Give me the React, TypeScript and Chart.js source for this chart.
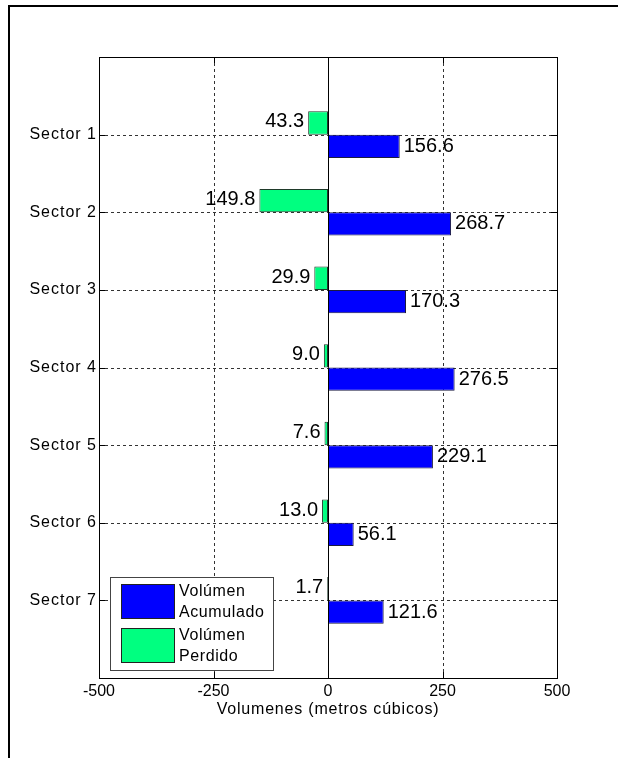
import React, { useEffect, useRef } from 'react';
import { Chart, registerables } from 'chart.js';

Chart.register(...registerables);

const sectors = ['Sector 1', 'Sector 2', 'Sector 3', 'Sector 4', 'Sector 5', 'Sector 6', 'Sector 7'];
const acumulado = [156.6, 268.7, 170.3, 276.5, 229.1, 56.1, 121.6];
const perdido = [43.3, 149.8, 29.9, 9.0, 7.6, 13.0, 1.7];
const xTicks = [-500, -250, 0, 250, 500];
const legendAcumulado = ['Volúmen', 'Acumulado'];
const legendPerdido = ['Volúmen', 'Perdido'];
const xTitle = 'Volumenes (metros cúbicos)';

const FONT = '"Liberation Sans", Arial, Helvetica, sans-serif';
const BLUE = '#0000FF';
const GREEN = '#00FF80';

const styled = {
  id: 'matlabStyle',
  beforeDraw(chart: any) {
    const ctx = chart.ctx;
    ctx.save();
    ctx.fillStyle = '#fff';
    ctx.fillRect(0, 0, chart.width, chart.height);
    ctx.strokeStyle = '#000';
    ctx.lineWidth = 2;
    ctx.beginPath();
    ctx.moveTo(9, chart.height + 5);
    ctx.lineTo(9, 6);
    ctx.lineTo(chart.width + 5, 6);
    ctx.stroke();
    ctx.restore();
  },
  beforeDatasetsDraw(chart: any) {
    const ctx = chart.ctx;
    const { left, right, top, bottom } = chart.chartArea;
    const xs = chart.scales.x;
    const ys = chart.scales.y;
    ctx.save();
    ctx.strokeStyle = '#333';
    ctx.lineWidth = 1;
    ctx.setLineDash([3, 3]);
    xTicks.forEach((t) => {
      if (t === -500 || t === 500 || t === 0) return;
      const px = Math.round(xs.getPixelForValue(t)) + 0.5;
      ctx.beginPath();
      ctx.moveTo(px, top);
      ctx.lineTo(px, bottom);
      ctx.stroke();
    });
    sectors.forEach((_, i) => {
      const py = Math.round(ys.getPixelForValue(i + 1)) + 0.5;
      ctx.beginPath();
      ctx.moveTo(left, py);
      ctx.lineTo(right, py);
      ctx.stroke();
    });
    ctx.restore();
  },
  afterDatasetsDraw(chart: any) {
    const ctx = chart.ctx;
    const { left, right, top, bottom } = chart.chartArea;
    const xs = chart.scales.x;
    const ys = chart.scales.y;
    ctx.save();
    // baseline at 0
    ctx.strokeStyle = '#000';
    ctx.lineWidth = 1;
    const x0 = Math.round(xs.getPixelForValue(0)) + 0.5;
    ctx.beginPath();
    ctx.moveTo(x0, top);
    ctx.lineTo(x0, bottom);
    ctx.stroke();

    // axes box
    ctx.strokeRect(Math.round(left) + 0.5, Math.round(top) + 0.5, Math.round(right - left), Math.round(bottom - top));

    // inward ticks
    const tl = 6;
    xTicks.forEach((t) => {
      const px = Math.round(xs.getPixelForValue(t)) + 0.5;
      ctx.beginPath();
      ctx.moveTo(px, bottom);
      ctx.lineTo(px, bottom - tl);
      ctx.moveTo(px, top);
      ctx.lineTo(px, top + tl);
      ctx.stroke();
    });
    sectors.forEach((_, i) => {
      const py = Math.round(ys.getPixelForValue(i + 1)) + 0.5;
      ctx.beginPath();
      ctx.moveTo(left, py);
      ctx.lineTo(left + tl, py);
      ctx.moveTo(right, py);
      ctx.lineTo(right - tl, py);
      ctx.stroke();
    });

    // tick labels
    ctx.fillStyle = '#000';
    ctx.font = `16px ${FONT}`;
    ctx.textBaseline = 'middle';
    ctx.textAlign = 'center';
    xTicks.forEach((t) => {
      ctx.fillText(String(t), xs.getPixelForValue(t), 692);
    });
    (ctx as any).letterSpacing = '1px';
    ctx.textAlign = 'right';
    sectors.forEach((s, i) => {
      ctx.fillText(s, left - 2, ys.getPixelForValue(i + 1));
    });
    (ctx as any).letterSpacing = '0.8px';
    ctx.textAlign = 'center';
    ctx.fillText(xTitle, (left + right) / 2, 710);
    (ctx as any).letterSpacing = '0px';

    // data labels
    ctx.font = `20px ${FONT}`;
    const mp = chart.getDatasetMeta(0);
    const ma = chart.getDatasetMeta(1);
    sectors.forEach((_, i) => {
      const ep = mp.data[i + 1];
      const ea = ma.data[i + 1];
      ctx.textAlign = 'right';
      ctx.fillText(perdido[i].toFixed(1), ep.x - 4, ep.y - 1);
      ctx.textAlign = 'left';
      ctx.fillText(acumulado[i].toFixed(1), ea.x + 4, ea.y);
    });

    // legend
    const lx = 110.5, ly = 577.5, lw = 163, lh = 93;
    ctx.fillStyle = '#fff';
    ctx.fillRect(lx, ly, lw, lh);
    ctx.strokeStyle = '#444';
    ctx.strokeRect(lx, ly, lw, lh);
    ctx.strokeStyle = '#222';
    ctx.fillStyle = BLUE;
    ctx.fillRect(121.5, 584.5, 53, 34);
    ctx.strokeRect(121.5, 584.5, 53, 34);
    ctx.fillStyle = GREEN;
    ctx.fillRect(121.5, 628.5, 53, 34);
    ctx.strokeRect(121.5, 628.5, 53, 34);
    ctx.fillStyle = '#000';
    ctx.font = `16px ${FONT}`;
    ctx.textAlign = 'left';
    (ctx as any).letterSpacing = '0.6px';
    ctx.fillText(legendAcumulado[0], 179, 592);
    ctx.fillText(legendAcumulado[1], 179, 613);
    ctx.fillText(legendPerdido[0], 179, 636);
    ctx.fillText(legendPerdido[1], 179, 657);
    (ctx as any).letterSpacing = '0px';
    ctx.restore();
  },
};

export default function App() {
  const ref = useRef<HTMLCanvasElement>(null);
  useEffect(() => {
    const labels = ['', ...sectors, ''];
    const chart = new Chart(ref.current as HTMLCanvasElement, {
      type: 'bar',
      data: {
        labels,
        datasets: [
          {
            label: legendPerdido.join(' '),
            data: [null, ...perdido.map((v) => -v), null],
            backgroundColor: GREEN,
            borderColor: '#1f3a2a',
            borderWidth: 1,
            borderSkipped: false,
          },
          {
            label: legendAcumulado.join(' '),
            data: [null, ...acumulado, null],
            backgroundColor: BLUE,
            borderColor: '#1a1a40',
            borderWidth: 1,
            borderSkipped: false,
          },
        ],
      } as any,
      options: {
        indexAxis: 'y',
        responsive: false,
        animation: false,
        devicePixelRatio: 1,
        categoryPercentage: 0.6,
        barPercentage: 1,
        layout: { padding: { left: 99, right: 61, top: 57, bottom: 80 } },
        plugins: { legend: { display: false }, tooltip: { enabled: false } },
        scales: {
          x: { type: 'linear', min: -500, max: 500, display: false },
          y: { type: 'category', offset: false, display: false },
        },
      } as any,
      plugins: [styled],
    });
    return () => chart.destroy();
  }, []);
  return (
    <div style={{ position: 'fixed', left: 0, top: 0, width: 618, height: 758, background: '#fff' }}>
      <canvas ref={ref} width={618} height={758} style={{ display: 'block', width: 618, height: 758 }} />
    </div>
  );
}
